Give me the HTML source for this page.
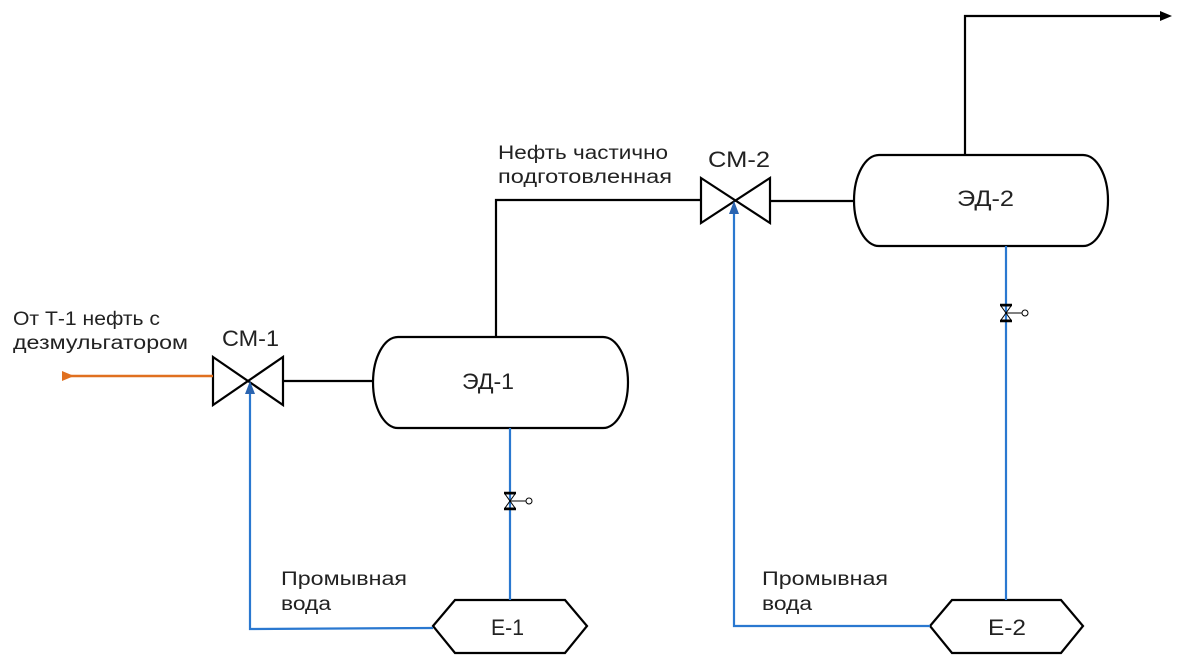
<!DOCTYPE html>
<html><head><meta charset="utf-8"><style>body{margin:0;background:#fff}svg{display:block}text{font-family:"Liberation Sans",sans-serif;fill:#222}</style></head><body>
<svg width="1189" height="657" viewBox="0 0 1189 657" xmlns="http://www.w3.org/2000/svg">
<g fill="none" stroke="#000" stroke-width="2.2">
<path d="M398 337H603A25 45.5 0 0 1 603 428H398A25 45.5 0 0 1 398 337Z"/>
<path d="M879 155H1083A25 45.5 0 0 1 1083 246H879A25 45.5 0 0 1 879 155Z"/>
<path d="M213 357L283 405V357L213 405Z"/>
<path d="M701 178L770 223V178L701 223Z"/>
<path d="M283 381H373M496 337V200H701M770 201H854M965 155V16H1162"/>
<path d="M433 626L455 600H565L587 626L565 653H455Z"/>
<path d="M930 626L952 600H1061L1083 626L1061 653H952Z"/>
</g>
<path d="M1160 11L1172 16L1160 21Z" fill="#000"/>
<path d="M70 376H213" stroke="#e07020" stroke-width="2.5"/>
<path d="M62 371L74 376L62 381Z" fill="#e07020"/>
<g fill="none" stroke="#2a78d0" stroke-width="2.2">
<path d="M510 428V600M433 628L250 629V392"/>
<path d="M1006 246V600M930 626H734V212"/>
</g>
<path d="M245 394L250 381L255 394Z M729 214L734 201L739 214Z" fill="#2a64b0"/>
<g stroke="#000" stroke-width="1" fill="none">
<path d="M505 494L515 494L505 508L515 508Z M510 501H526"/><circle cx="529" cy="501" r="3"/>
<path d="M1001 306L1011 306L1001 320L1011 320Z M1006 313H1022"/><circle cx="1025" cy="313" r="3"/>
</g>
<path d="M504 493H516M504 509H516M1000 305H1012M1000 321H1012" stroke="#000" stroke-width="2.5"/>
<g font-size="19">
<text x="13" y="325" textLength="147" lengthAdjust="spacingAndGlyphs">От Т-1 нефть с</text>
<text x="13" y="349" textLength="175" lengthAdjust="spacingAndGlyphs">дезмульгатором</text>
<text x="498" y="159" textLength="170" lengthAdjust="spacingAndGlyphs">Нефть частично</text>
<text x="498" y="183" textLength="174" lengthAdjust="spacingAndGlyphs">подготовленная</text>
<text x="281" y="585" textLength="126" lengthAdjust="spacingAndGlyphs">Промывная</text>
<text x="281" y="610" textLength="50" lengthAdjust="spacingAndGlyphs">вода</text>
<text x="762" y="585" textLength="126" lengthAdjust="spacingAndGlyphs">Промывная</text>
<text x="762" y="610" textLength="50" lengthAdjust="spacingAndGlyphs">вода</text>
</g>
<g font-size="22">
<text x="222" y="346" textLength="57" lengthAdjust="spacingAndGlyphs">СМ-1</text>
<text x="708" y="167" textLength="62" lengthAdjust="spacingAndGlyphs">СМ-2</text>
<text x="462" y="389" textLength="52" lengthAdjust="spacingAndGlyphs">ЭД-1</text>
<text x="957" y="206" textLength="57" lengthAdjust="spacingAndGlyphs">ЭД-2</text>
<text x="491" y="635" textLength="33" lengthAdjust="spacingAndGlyphs">Е-1</text>
<text x="988" y="635" textLength="38" lengthAdjust="spacingAndGlyphs">Е-2</text>
</g>
</svg>
</body></html>
